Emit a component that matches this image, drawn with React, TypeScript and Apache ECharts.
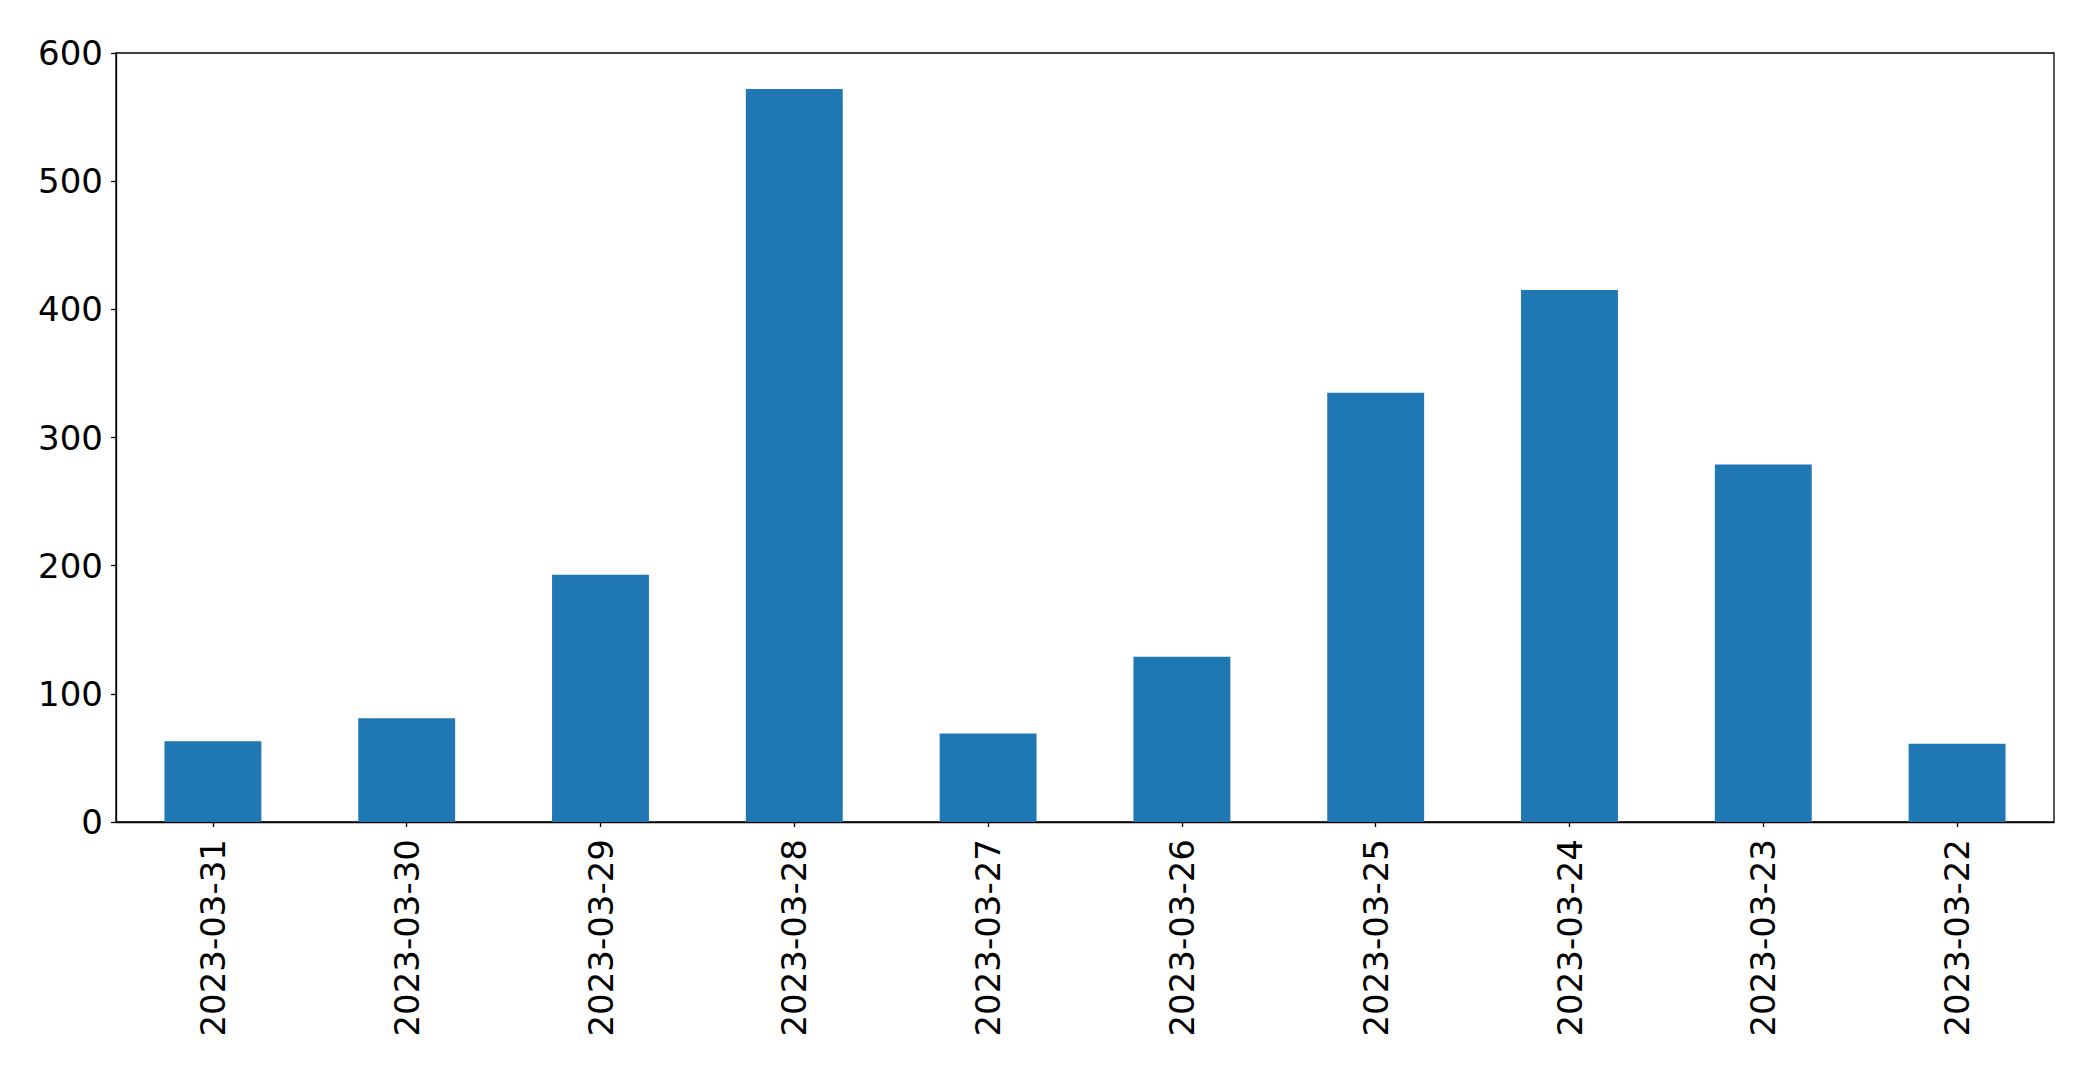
import React, { useEffect, useRef } from "react";
import * as echarts from "echarts";

const categories = [
  "2023-03-31",
  "2023-03-30",
  "2023-03-29",
  "2023-03-28",
  "2023-03-27",
  "2023-03-26",
  "2023-03-25",
  "2023-03-24",
  "2023-03-23",
  "2023-03-22",
];
const values = [63, 81, 193, 572, 69, 129, 335, 415, 279, 61];
const yMin = 0;
const yMax = 600;
const yInterval = 100;

export default function App() {
  const ref = useRef<HTMLDivElement>(null);
  useEffect(() => {
    if (!ref.current) return;
    const chart = echarts.init(ref.current, null, { renderer: "svg" });
    const font = "DejaVu Sans";
    chart.setOption({
      animation: false,
      backgroundColor: "#ffffff",
      grid: {
        left: 116,
        top: 53,
        width: 1938,
        height: 769,
        show: true,
        borderColor: "#000000",
        borderWidth: 1.3,
        containLabel: false,
      },
      xAxis: {
        type: "category",
        data: categories,
        axisLine: { show: true, lineStyle: { color: "#000000", width: 1.3 } },
        axisTick: { show: true, alignWithLabel: true, length: 5, lineStyle: { color: "#000000", width: 1.3 } },
        axisLabel: {
          rotate: 90,
          margin: 17,
          color: "#000000",
          fontFamily: font,
          fontSize: 34,
          interval: 0,
        },
        splitLine: { show: false },
      },
      yAxis: {
        type: "value",
        min: yMin,
        max: yMax,
        interval: yInterval,
        axisLine: { show: true, lineStyle: { color: "#000000", width: 1.3 } },
        axisTick: { show: true, length: 5, lineStyle: { color: "#000000", width: 1.3 } },
        axisLabel: {
          margin: 13,
          color: "#000000",
          fontFamily: font,
          fontSize: 34,
        },
        splitLine: { show: false },
      },
      series: [
        {
          type: "bar",
          data: values,
          barWidth: "50%",
          itemStyle: { color: "#1f77b4" },
        },
      ],
    });
    return () => chart.dispose();
  }, []);
  return (
    <div
      ref={ref}
      style={{ position: "fixed", left: 0, top: 0, width: 2093, height: 1074, background: "#fff" }}
    />
  );
}
